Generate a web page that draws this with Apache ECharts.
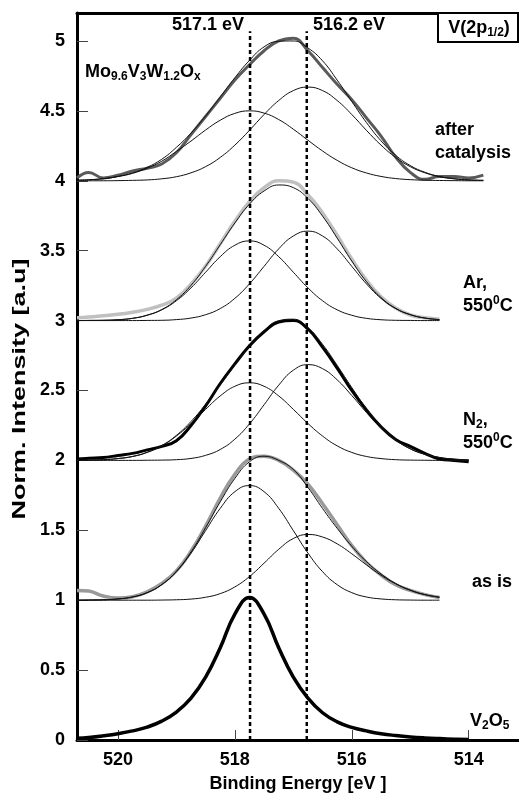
<!DOCTYPE html>
<html><head><meta charset="utf-8">
<script src="https://cdn.jsdelivr.net/npm/echarts@6/dist/echarts.min.js"></script>
<style>html,body{margin:0;padding:0;background:#fff}#c{width:519px;height:793px}</style>
</head><body><div id="c"></div>
<script>
// Binding energy grid (eV)
const energy = [520.7,520.5,520.25,520,519.75,519.5,519.25,519,518.75,518.5,518.25,518,517.75,517.5,517.25,517,516.75,516.5,516.25,516,515.75,515.5,515.25,515,514.75,514.5,514.25,514,513.75];

// V2O5 reference (offset 0)
const v2o5 = [0.012,0.018,0.03,0.045,0.065,0.092,0.135,0.2,0.3,0.45,0.66,0.9,1.02,0.9,0.66,0.45,0.3,0.195,0.13,0.09,0.065,0.045,0.032,0.022,0.015,0.01,0.006,0.003,null];

// "as is" (offset 1)
const asIsMeas = [1.07,1.065,1.03,1.015,1.025,1.06,1.12,1.21,1.35,1.53,1.73,1.9,2.01,2.03,2.0,1.93,1.83,1.69,1.54,1.39,1.27,1.18,1.11,1.07,1.04,1.02,null,null,null];
const asIsFit  = [1.0,1.001,1.003,1.009,1.023,1.054,1.112,1.207,1.345,1.519,1.704,1.871,1.99,2.03,2.0,1.935,1.807,1.656,1.514,1.386,1.276,1.188,1.12,1.072,1.04,1.021,null,null,null];
const asIsV5   = [1.0,1.001,1.003,1.009,1.023,1.054,1.111,1.204,1.337,1.498,1.657,1.776,1.82,1.776,1.657,1.498,1.337,1.204,1.111,1.054,1.023,1.009,1.003,1.001,1.0,1.0,null,null,null];
const asIsV4   = [1.0,1.0,1.0,1.0,1.0,1.0,1.001,1.003,1.008,1.021,1.047,1.095,1.169,1.265,1.364,1.441,1.47,1.452,1.403,1.332,1.253,1.179,1.117,1.071,1.04,1.021,null,null,null];

// N2, 550 C (offset 2)
const n2Meas = [2.01,2.015,2.02,2.035,2.05,2.075,2.1,2.14,2.25,2.39,2.55,2.69,2.82,2.92,2.99,3.0,2.94,2.81,2.66,2.5,2.36,2.24,2.15,2.1,2.05,2.01,2.0,1.99,null];
const n2Fit  = [2.001,2.002,2.005,2.013,2.028,2.058,2.106,2.179,2.278,2.401,2.539,2.682,2.816,2.928,2.999,3.01,2.949,2.83,2.68,2.521,2.371,2.245,2.15,2.084,2.044,2.021,2.009,2.004,null];
const n2V5   = [2.001,2.002,2.005,2.013,2.028,2.057,2.104,2.174,2.264,2.365,2.461,2.53,2.555,2.53,2.461,2.365,2.264,2.174,2.104,2.057,2.028,2.013,2.005,2.002,2.001,2.0,2.0,2.0,null];
const n2V4   = [2.0,2.0,2.0,2.0,2.0,2.001,2.002,2.005,2.014,2.036,2.078,2.152,2.261,2.398,2.538,2.645,2.685,2.656,2.576,2.464,2.343,2.232,2.145,2.082,2.043,2.021,2.009,2.004,null];

// Ar, 550 C (offset 3)
const arMeas = [3.02,3.025,3.035,3.045,3.06,3.08,3.11,3.16,3.26,3.39,3.55,3.71,3.85,3.95,4.0,3.99,3.9,3.77,3.61,3.44,3.29,3.17,3.09,3.04,3.02,3.01,null,null,null];
const arFit  = [3.0,3.001,3.002,3.006,3.016,3.039,3.079,3.149,3.252,3.388,3.543,3.698,3.833,3.927,3.97,3.951,3.874,3.747,3.59,3.426,3.279,3.165,3.088,3.043,3.018,3.007,null,null,null];
const arV5   = [3.0,3.001,3.002,3.006,3.016,3.038,3.077,3.142,3.234,3.346,3.457,3.539,3.57,3.539,3.457,3.346,3.234,3.142,3.077,3.038,3.016,3.006,3.002,3.001,3.0,3.0,null,null,null];
const arV4   = [3.0,3.0,3.0,3.0,3.0,3.001,3.002,3.007,3.018,3.042,3.086,3.159,3.263,3.388,3.513,3.605,3.64,3.605,3.513,3.388,3.263,3.159,3.086,3.042,3.018,3.007,null,null,null];

// after catalysis (offset 4)
const acMeas = [4.02,4.06,4.02,4.04,4.07,4.09,4.12,4.2,4.33,4.46,4.59,4.72,4.83,4.93,5.0,5.02,4.93,4.81,4.69,4.58,4.45,4.32,4.17,4.06,4.01,4.03,4.03,4.02,4.04];
const acFit  = [4.004,4.007,4.015,4.031,4.056,4.096,4.154,4.239,4.341,4.464,4.6,4.737,4.861,4.958,4.998,5.0,4.95,4.858,4.72,4.567,4.417,4.286,4.183,4.109,4.061,4.031,4.015,4.006,4.003];
const acV5   = [4.004,4.007,4.015,4.03,4.053,4.09,4.14,4.21,4.284,4.363,4.433,4.482,4.5,4.484,4.438,4.369,4.29,4.213,4.146,4.093,4.056,4.031,4.016,4.008,4.004,4.002,4.001,4.0,4.0];
const acV4   = [4.0,4.0,4.0,4.001,4.003,4.006,4.014,4.029,4.057,4.101,4.167,4.255,4.361,4.474,4.574,4.645,4.67,4.645,4.574,4.474,4.361,4.255,4.167,4.101,4.057,4.029,4.014,4.006,4.003];

// reference peak positions (dashed lines) and their top
const refLines = [517.74, 516.77];
const refTop = 5.07;

// axis ticks
const xTicks = [520, 518, 516, 514];
const yTicks = [0, 0.5, 1, 1.5, 2, 2.5, 3, 3.5, 4, 4.5, 5];

const FF = '"Liberation Sans", Arial, Helvetica, sans-serif';

function pts(ys) {
  return energy.map((e, i) => [e, ys[i]]).filter(p => p[1] != null);
}
function curve(name, ys, color, width, z) {
  return {
    type: 'line', name: name, data: pts(ys), smooth: 0.45, symbol: 'none',
    silent: true, z: z, lineStyle: { color: color, width: width }
  };
}

const series = [
  curve('V2O5', v2o5, '#000', 3.5, 5),
  curve('as is', asIsMeas, '#9a9a9a', 3.5, 2),
  curve('as is fit', asIsFit, '#111', 1, 4),
  curve('as is V5+', asIsV5, '#111', 1, 4),
  curve('as is V4+', asIsV4, '#111', 1, 4),
  curve('N2', n2Meas, '#000', 3, 2),
  curve('N2 fit', n2Fit, '#111', 1, 4),
  curve('N2 V5+', n2V5, '#111', 1, 4),
  curve('N2 V4+', n2V4, '#111', 1, 4),
  curve('Ar', arMeas, '#c0c0c0', 3.5, 2),
  curve('Ar fit', arFit, '#111', 1, 4),
  curve('Ar V5+', arV5, '#111', 1, 4),
  curve('Ar V4+', arV4, '#111', 1, 4),
  curve('after catalysis', acMeas, '#5a5a5a', 3, 2),
  curve('ac fit', acFit, '#111', 1, 4),
  curve('ac V5+', acV5, '#111', 1, 4),
  curve('ac V4+', acV4, '#111', 1, 4)
];
refLines.forEach((e, i) => {
  series.push({
    type: 'line', name: 'ref' + i, data: [[e, 0], [e, refTop]], symbol: 'none', silent: true, z: 6,
    lineStyle: { color: '#000', width: 2.5, type: [4, 3] }
  });
});

const RICH = {
  m: { fontSize: 18, fontWeight: 'bold', fontFamily: FF, lineHeight: 22, verticalAlign: 'middle', fill: '#000', color: '#000' },
  s: { fontSize: 12, fontWeight: 'bold', fontFamily: FF, lineHeight: 11, verticalAlign: 'bottom', fill: '#000', color: '#000' },
  p: { fontSize: 12, fontWeight: 'bold', fontFamily: FF, lineHeight: 11, verticalAlign: 'top', fill: '#000', color: '#000' }
};
function label(x, y, text, align) {
  return {
    type: 'text', x: x, y: y, z: 20, silent: true,
    style: { text: text, rich: RICH, align: align || 'left', textAlign: align || 'left',
      verticalAlign: 'middle', textVerticalAlign: 'middle', font: 'bold 18px ' + FF, fill: '#000' }
  };
}

const chart = echarts.init(document.getElementById('c'), null, { renderer: 'canvas' });
chart.setOption({
  animation: false,
  backgroundColor: '#fff',
  grid: { left: 77, right: 0, top: 13, bottom: 53, containLabel: false, outerBoundsMode: 'none' },
  xAxis: [{
    type: 'value', inverse: true, min: 513.14, max: 520.7, position: 'bottom',
    axisLine: { onZero: false, lineStyle: { color: '#000', width: 3 } },
    axisTick: { inside: true, length: 10, customValues: xTicks, lineStyle: { color: '#444', width: 1 } },
    axisLabel: { customValues: xTicks, fontSize: 18, fontWeight: 'bold', color: '#000', margin: 11, fontFamily: FF },
    splitLine: { show: false },
    name: 'Binding Energy [eV ]', nameLocation: 'middle', nameGap: 35,
    nameTextStyle: { fontSize: 18, fontWeight: 'bold', color: '#000', fontFamily: FF }
  }, {
    type: 'value', inverse: true, min: 513.14, max: 520.7, position: 'top',
    axisLine: { onZero: false, lineStyle: { color: '#000', width: 3 } },
    axisTick: { show: false }, axisLabel: { show: false }, splitLine: { show: false }
  }],
  yAxis: {
    type: 'value', min: 0, max: 5.2,
    axisLine: { onZero: false, lineStyle: { color: '#000', width: 3 } },
    axisTick: { inside: true, length: 11, customValues: yTicks, lineStyle: { color: '#444', width: 1 } },
    axisLabel: { customValues: yTicks, fontSize: 18, fontWeight: 'bold', color: '#000', margin: 12, fontFamily: FF },
    splitLine: { show: false }
  },
  series: series,
  graphic: [
    label(208, 25, '517.1 eV', 'center'),
    label(313, 25, '516.2 eV'),
    { type: 'rect', z: 19, silent: true, shape: { x: 438, y: 13, width: 80, height: 29 },
      style: { fill: '#fff', stroke: '#000', lineWidth: 2 } },
    label(479, 28, '{m|V(2p}{s|1/2}{m|)}', 'center'),
    label(85, 72, '{m|Mo}{s|9.6}{m|V}{s|3}{m|W}{s|1.2}{m|O}{s|x}'),
    label(435, 130, 'after'),
    label(435, 153, 'catalysis'),
    label(463, 283, 'Ar,'),
    label(463, 306, '{m|550}{p|0}{m|C}'),
    label(463, 420, '{m|N}{s|2}{m|,}'),
    label(463, 443, '{m|550}{p|0}{m|C}'),
    label(472, 582, 'as is'),
    label(470, 721, '{m|V}{s|2}{m|O}{s|5}'),
    { type: 'text', x: 20, y: 389, rotation: Math.PI / 2, scaleX: 1.5, z: 20, silent: true,
      style: { text: 'Norm. Intensity [a.u]', font: 'bold 18px ' + FF, fill: '#000',
        align: 'center', textAlign: 'center', verticalAlign: 'middle', textVerticalAlign: 'middle' } }
  ]
});
</script></body></html>
